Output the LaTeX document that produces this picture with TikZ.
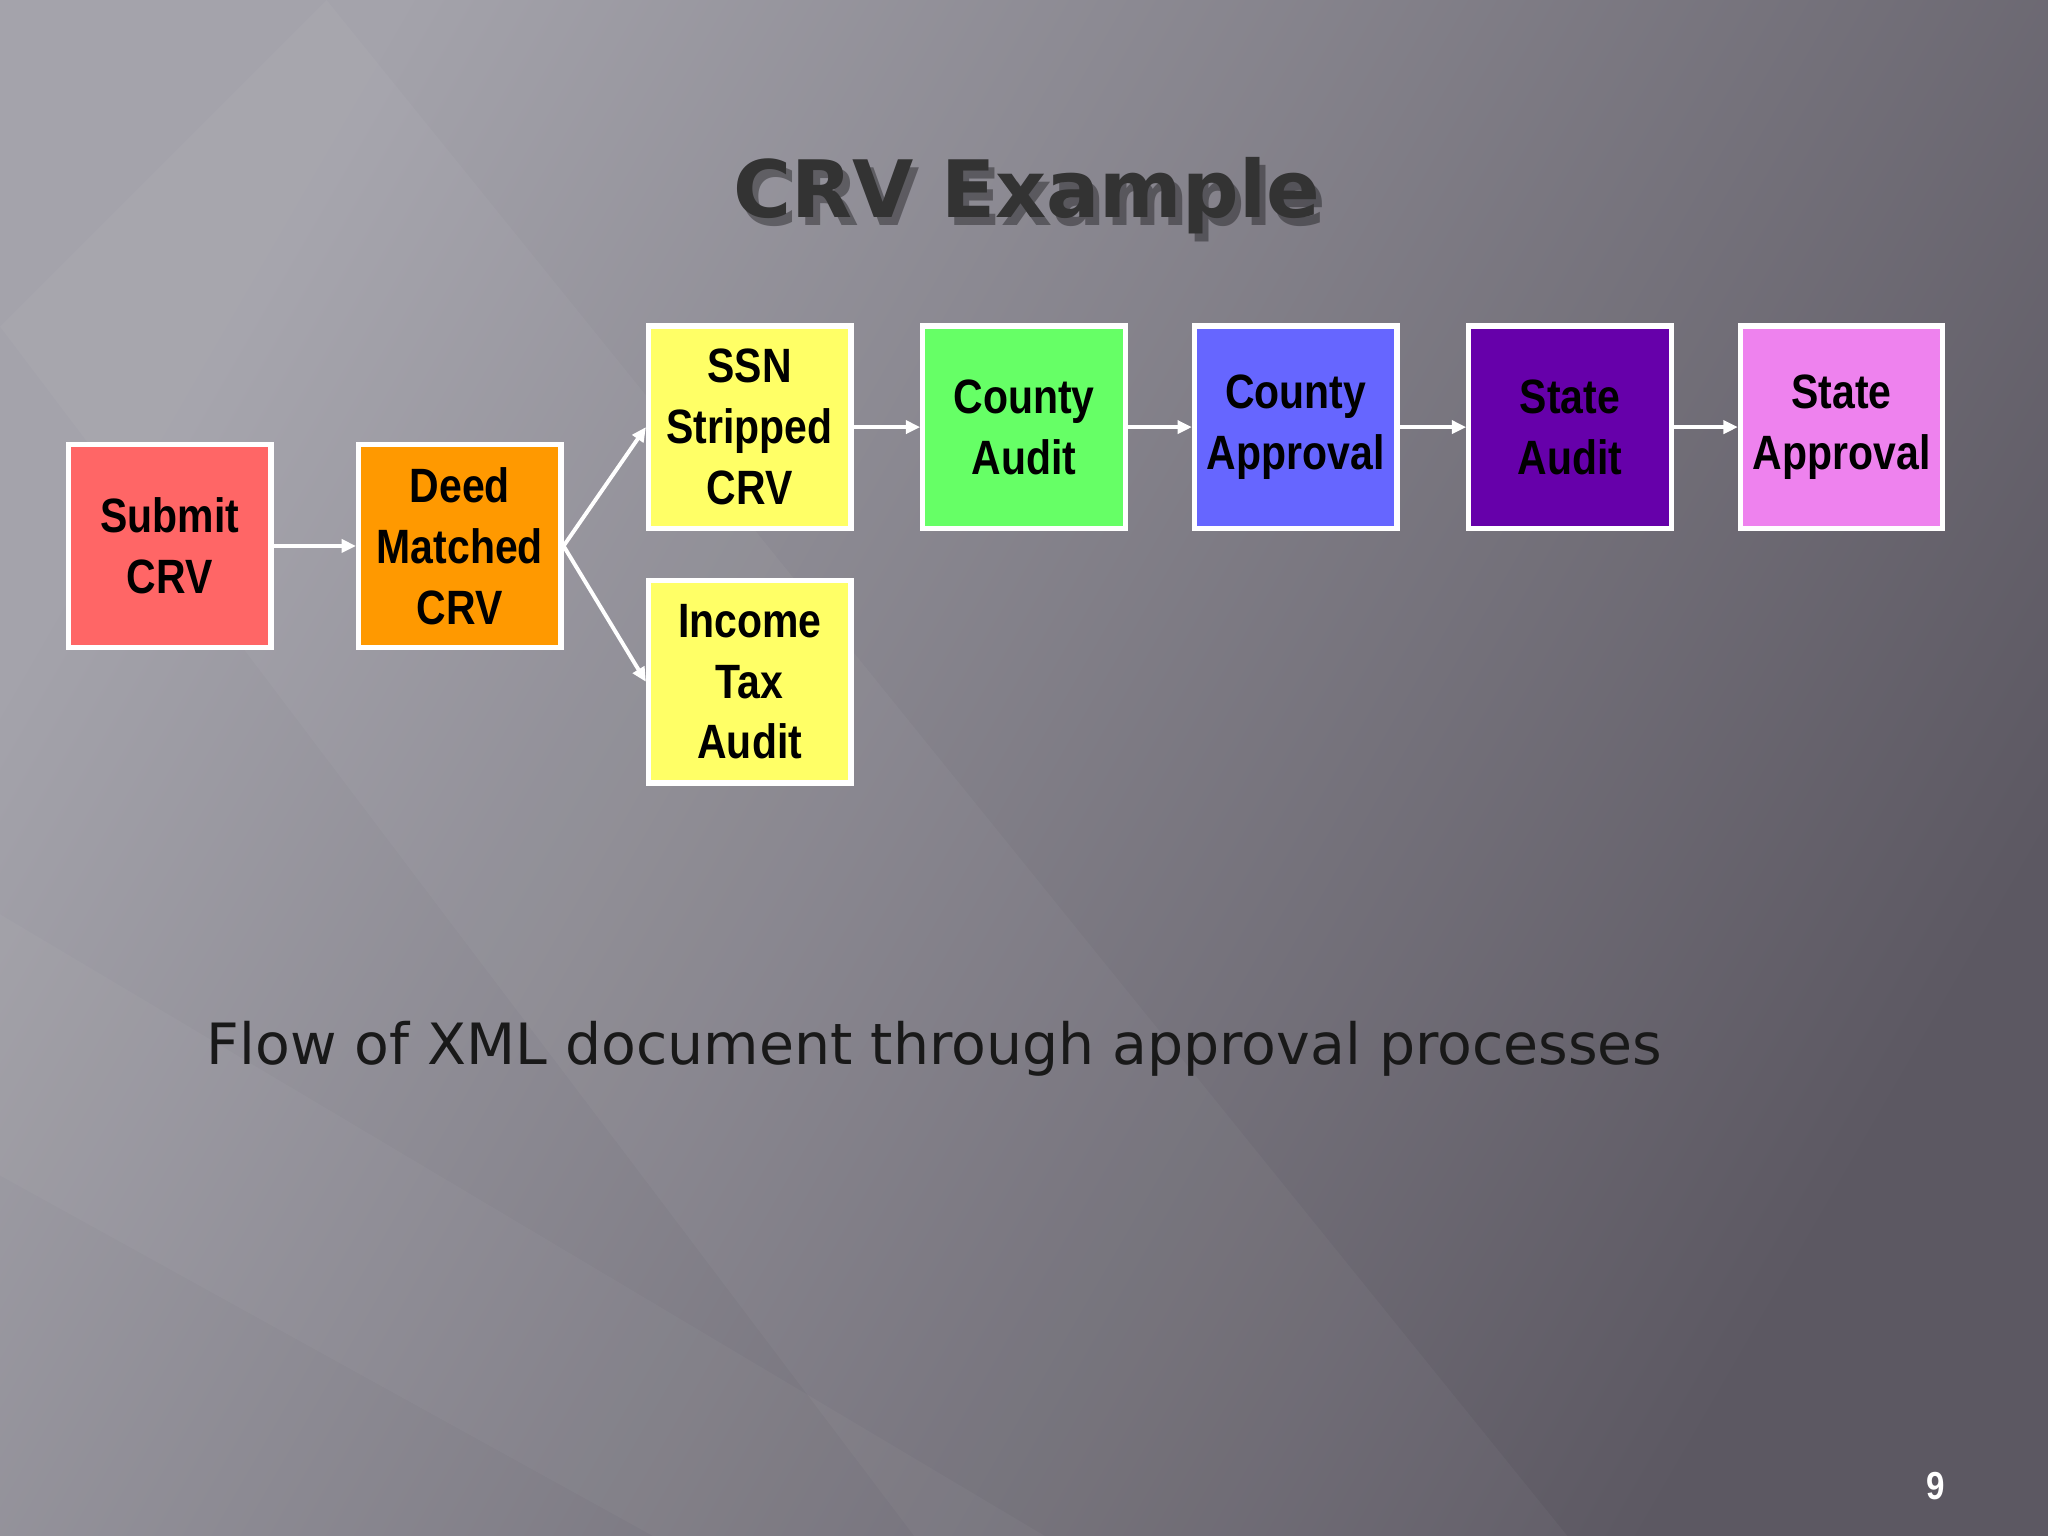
\documentclass[tikz,border=0pt]{standalone}
\usepackage{fontspec}
\setmainfont{Liberation Sans}
\newfontfamily\narrowbold[FakeStretch=0.85]{Liberation Sans Bold}
\newfontfamily\capfont{DejaVu Sans}
\newfontfamily\titlefont{DejaVu Sans Bold}
\usetikzlibrary{arrows.meta}
\definecolor{cSub}{HTML}{FF6666}
\definecolor{cDeed}{HTML}{FF9900}
\definecolor{cYel}{HTML}{FFFF66}
\definecolor{cCA}{HTML}{66FF66}
\definecolor{cCP}{HTML}{6666FF}
\definecolor{cSA}{HTML}{6600AA}
\definecolor{cSP}{HTML}{EE82EE}
\definecolor{bgL}{HTML}{A4A3AB}
\definecolor{bgR}{HTML}{5C5862}
\tikzset{
  flowbox/.style={draw=white,line width=0.08cm,minimum width=3.1cm,minimum height=3.1cm,
    inner sep=0pt,align=center,text width=3.1cm,
    font=\narrowbold\fontsize{21}{26.5}\selectfont},
  flowarrow/.style={draw=white,line width=0.06cm,-{Triangle[length=0.22cm,width=0.2cm]}},
  titlestyle/.style={font=\titlefont\fontsize{34.5}{36}\selectfont}
}
\begin{document}
\begin{tikzpicture}[x=0.02cm,y=-0.02cm]
\shade[left color=bgL,right color=bgR,shading angle=60] (0,0) rectangle (1568,1176);
\fill[white,opacity=0.035] (0,250) -- (250,0) -- (1200,1176) -- (700,1176) -- cycle;
\fill[white,opacity=0.03] (0,700) -- (0,900) -- (500,1176) -- (800,1176) -- cycle;
\useasboundingbox (0,0) rectangle (1568,1176);
\node[titlestyle,text=black,opacity=0.35] (tshadow) at (791,156) {CRV Example};
\node[titlestyle,text=black!80] (title) at (786,150) {CRV Example};
\node[flowbox,fill=cSub] (sub) at (130,418) {Submit\\CRV};
\node[flowbox,fill=cDeed] (deed) at (352,418) {Deed\\Matched\\CRV};
\node[flowbox,fill=cYel] (ssn) at (574,327) {SSN\\Stripped\\CRV};
\node[flowbox,fill=cYel] (inc) at (574,522) {Income\\Tax\\Audit};
\node[flowbox,fill=cCA] (ca) at (784,327) {County\\Audit};
\node[flowbox,fill=cCP] (cp) at (992,327) {County\\Approval};
\node[flowbox,fill=cSA] (sa) at (1202,327) {State\\Audit};
\node[flowbox,fill=cSP] (sp) at (1410,327) {State\\Approval};
\draw[flowarrow] (sub) -- (deed);
\draw[flowarrow] (deed.east) -- (ssn.west);
\draw[flowarrow] (deed.east) -- (inc.west);
\draw[flowarrow] (ssn) -- (ca);
\draw[flowarrow] (ca) -- (cp);
\draw[flowarrow] (cp) -- (sa);
\draw[flowarrow] (sa) -- (sp);
\node[font=\capfont\fontsize{24.8}{30}\selectfont,text=black!90,anchor=west] (cap) at (152,803) {Flow of XML document through approval processes};
\node[font=\narrowbold\fontsize{17}{20}\selectfont,text=white] (pg) at (1482,1138) {9};
\end{tikzpicture}
\end{document}
